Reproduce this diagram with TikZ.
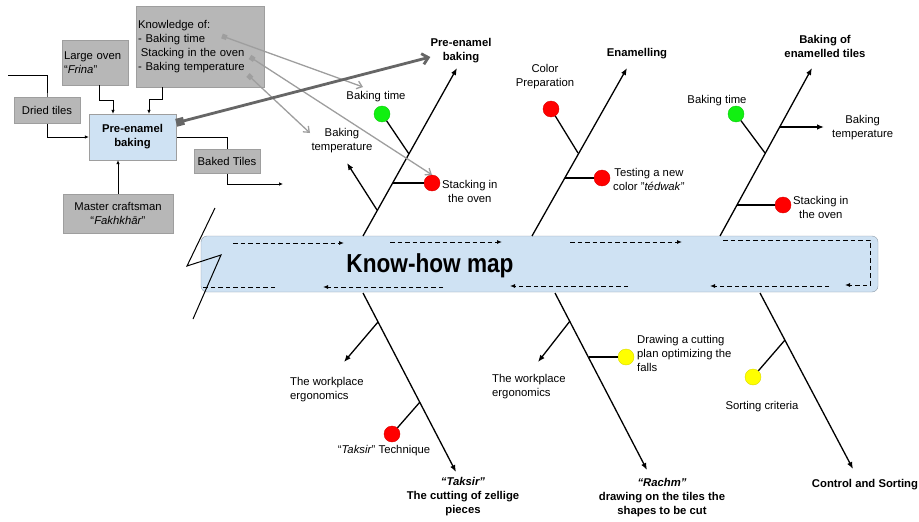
\documentclass[tikz,border=0pt]{standalone}
\usepackage{fontspec}
\setmainfont{Liberation Sans}
\usepackage{graphicx}
\usepackage{xcolor}
\usepackage{tikz}
\usetikzlibrary{arrows.meta,backgrounds}

\definecolor{boxgray}{HTML}{B7B7B7}
\definecolor{boxline}{HTML}{9E9E9E}
\definecolor{paleblue}{HTML}{CFE2F3}
\definecolor{bandline}{HTML}{8E9AA6}
\definecolor{hintgray}{HTML}{9E9E9E}
\definecolor{biggray}{HTML}{666666}
\definecolor{dotred}{HTML}{FF0000}
\definecolor{dotgreen}{HTML}{11F011}
\definecolor{dotyellow}{HTML}{FFFF00}

\newcommand\kmfont{\fontsize{11.3}{14}\selectfont}

\tikzset{
  graybox/.style={draw=boxline,fill=boxgray,inner sep=2pt},
  bluebox/.style={draw=boxline,fill=paleblue,inner sep=2pt},
  band/.style={draw=bandline,fill=paleblue,rounded corners=6pt},
  lbl/.style={align=center,inner sep=0pt},
  ttl/.style={align=center,inner sep=0pt,font=\kmfont\bfseries},
  bulb/.style={circle,inner sep=0pt,minimum size=16pt,fill=#1,draw=#1!85!black,line width=0.4pt},
  flow/.style={line width=0.7pt,-{Latex[length=4pt,width=3.5pt]}},
  spine/.style={line width=1.3pt,-{Latex[length=7pt,width=5.5pt]}},
  branch/.style={line width=1.3pt},
  dasharrow/.style={line width=1pt,dash pattern=on 4.5pt off 3pt,-{Latex[length=5pt,width=4pt]}},
  dashline/.style={line width=1pt,dash pattern=on 4.5pt off 3pt},
  hint/.style={draw=hintgray,line width=1.3pt,{Square[length=5pt,width=5pt]}-{Straight Barb[length=5pt,width=8pt]}},
  bigarrow/.style={draw=biggray,line width=2.8pt,{Square[length=8pt,width=8pt]}-{Straight Barb[length=6pt,width=11pt]}}
}

\begin{document}
\begin{tikzpicture}[x=1pt,y=-1pt,font=\kmfont]
\useasboundingbox (0,0) rectangle (919,522);

% process box on the left
\node[graybox,text width=124pt,minimum height=81pt,align=left] (know) at (200,46.5) {Knowledge of:\\- Baking time\\\hspace*{0.25em}Stacking in the oven\\- Baking temperature};
\node[graybox,text width=62pt,minimum height=45pt,align=left] (oven) at (95,62.5) {Large oven\\“\textit{Frina}”};
\node[graybox,minimum width=66pt,minimum height=26pt] (dried) at (47,110) {Dried tiles};
\node[bluebox,minimum width=87pt,minimum height=46pt,align=center,font=\kmfont\bfseries] (pre) at (132.5,137) {Pre-enamel\\baking};
\node[graybox,minimum width=66pt,minimum height=24pt] (baked) at (227,161) {Baked Tiles};
\node[graybox,minimum width=110pt,minimum height=39pt,align=center] (master) at (118,213.5) {Master craftsman\\“\textit{Fakhkhār}”};
\coordinate (tilesin) at (8,75);
\coordinate (tilesout) at (283,184);

\begin{pgfonlayer}{background}
\draw[flow] (tilesin) -| (dried.center) |- (pre.west);
\draw[flow] (pre.east) -| (baked.center) |- (tilesout);
\end{pgfonlayer}
\draw[flow] ([xshift=4pt]oven.south) -- ++(0,15) -| ([xshift=-19.5pt]pre.north);
\draw[flow] ([xshift=-38pt]know.south) -- ++(0,12) -| ([xshift=16.5pt]pre.north);
\draw[flow] (master.north) -- (master.north |- pre.south);

% the band
\node[band,minimum width=677pt,minimum height=56pt] (map) at (539.5,264) {};
\node[inner sep=0pt,font=\fontsize{26}{30}\selectfont\bfseries] (maptitle) at (430,266) {\scalebox{0.87}[1]{Know-how map}};
\draw[dasharrow] (233,243) -- (344,243);
\draw[dasharrow] (390,242) -- (502,242);
\draw[dasharrow] (570,242) -- (682,242);
\draw[dasharrow] (723,240) -- (870,240) -- (870,285) -- (845,285);
\draw[dasharrow] (829,286) -- (710,286);
\draw[dasharrow] (628,286) -- (510,286);
\draw[dasharrow] (443,287) -- (323,287);
\draw[dashline] (275,287) -- (201,287);
\draw[line width=1pt] (215,208) -- (187,266) -- (221,255) -- (193,319);

% Pre-enamel baking
\coordinate (s1a) at (363,236);
\node[ttl] (t1) at (461,51) {Pre-enamel\\baking};
\coordinate (s1b) at (457,68);
\draw[spine] (s1a) -- (s1b);
\node[bulb=dotgreen] (g1) at (382,114) {};
\node[lbl] (bt1) at (376,97) {Baking time};
\coordinate (j1) at (409,154);
\draw[branch] (g1) -- (j1);
\node[bulb=dotred] (r1) at (432,183) {};
\node[lbl,anchor=west] (st1) at (442,191) {Stacking in\\the oven};
\coordinate (j2) at (393,183);
\draw[branch] (j2) -- (r1);
\node[lbl] (tp1) at (342,141) {Baking\\temperature};
\coordinate (j3) at (377,210);
\coordinate (a3) at (347,163);
\draw[spine] (j3) -- (a3);

% knowledge hints
\coordinate (k1) at (222,36);
\coordinate (k2) at (250,57);
\coordinate (k3) at (248,75);
\coordinate (h1) at (363,87);
\coordinate (h3) at (310,133);
\draw[hint] (k1) -- (h1);
\draw[hint] (k2) -- (r1.north);
\draw[hint] (k3) -- (h3);
\draw[bigarrow] ([yshift=-9pt]pre.north east) -- ([yshift=-6pt]t1.west);

% Enamelling
\coordinate (s2a) at (532,236);
\coordinate (s2b) at (627,68);
\draw[spine] (s2a) -- (s2b);
\node[ttl] (t2) at (637,54) {Enamelling};
\node[bulb=dotred] (r2) at (551,109) {};
\node[lbl] (cp) at (545,77) {Color\\Preparation};
\coordinate (j4) at (578,153);
\draw[branch] (r2) -- (j4);
\node[bulb=dotred] (r3) at (602,178) {};
\node[lbl,anchor=west] (tn) at (613,179.5) {Testing a new\\color "\textit{tédwak}"};
\coordinate (j5) at (565,178);
\draw[branch] (j5) -- (r3);

% Baking of enamelled tiles
\coordinate (s3a) at (720,236);
\coordinate (s3b) at (812,68);
\draw[spine] (s3a) -- (s3b);
\node[ttl] (t3) at (825,46) {Baking of\\enamelled tiles};
\node[bulb=dotgreen] (g2) at (736,114) {};
\node[lbl] (bt2) at (717,101) {Baking time};
\coordinate (j6) at (765,153);
\draw[branch] (g2) -- (j6);
\coordinate (j7) at (780,127);
\coordinate (a7) at (824,127);
\draw[spine] (j7) -- (a7);
\node[lbl,anchor=west] (tp2) at (832,128) {Baking\\temperature};
\node[bulb=dotred] (r4) at (783,205) {};
\node[lbl,anchor=west] (st2) at (793,207) {Stacking in\\the oven};
\coordinate (j8) at (737,205);
\draw[branch] (j8) -- (r4);

% Taksir
\coordinate (s4a) at (363,293);
\coordinate (s4b) at (456,472);
\draw[spine] (s4a) -- (s4b);
\node[ttl] (t4) at (463,497) {\textit{“Taksir”}\\The cutting of zellige\\pieces};
\coordinate (j9) at (378,322);
\coordinate (a9) at (344,362);
\draw[spine] (j9) -- (a9);
\node[lbl,align=left,anchor=west] (wp1) at (290,390) {The workplace\\ergonomics};
\node[bulb=dotred] (r5) at (392,434) {};
\coordinate (j10) at (420,402);
\draw[branch] (r5) -- (j10);
\node[lbl] (tq) at (384,451) {“\textit{Taksir}” Technique};

% Rachm
\coordinate (s5a) at (555,293);
\coordinate (s5b) at (647,470);
\draw[spine] (s5a) -- (s5b);
\node[ttl] (t5) at (662,498) {\textit{“Rachm”}\\drawing on the tiles the\\shapes to be cut};
\coordinate (j11) at (570,321);
\coordinate (a11) at (538,362);
\draw[spine] (j11) -- (a11);
\node[lbl,align=left,anchor=west] (wp2) at (492,387) {The workplace\\ergonomics};
\node[bulb=dotyellow] (y1) at (626,357) {};
\coordinate (j12) at (589,357);
\draw[branch] (j12) -- (y1);
\node[lbl,align=left,anchor=west] (dr) at (637,353) {Drawing a cutting\\plan optimizing the\\falls};

% Control and Sorting
\coordinate (s6a) at (760,293);
\coordinate (s6b) at (853,469);
\draw[spine] (s6a) -- (s6b);
\node[ttl] (t6) at (865,485) {Control and Sorting};
\node[bulb=dotyellow] (y2) at (753,377) {};
\coordinate (j13) at (785,340);
\draw[branch] (y2) -- (j13);
\node[lbl] (sc) at (762,407) {Sorting criteria};
\end{tikzpicture}
\end{document}
